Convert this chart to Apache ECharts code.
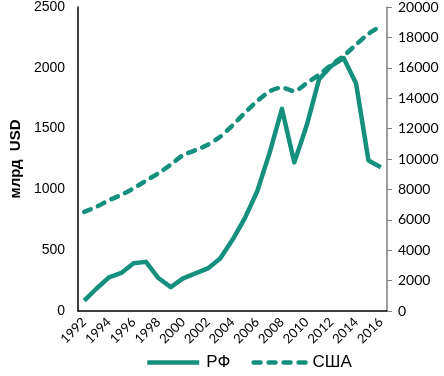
<!DOCTYPE html>
<html>
<head>
<meta charset="utf-8">
<style>
    html, body { margin: 0; padding: 0; background: #fff; }
    #gdp { width: 444px; height: 376px; }
</style>
<script src="https://cdn.jsdelivr.net/npm/echarts@6/dist/echarts.min.js"></script>
</head>
<body>
<div id="gdp"></div>
<script>
// годы
const years = ['1992','1993','1994','1995','1996','1997','1998','1999','2000','2001','2002','2003','2004',
    '2005','2006','2007','2008','2009','2010','2011','2012','2013','2014','2015','2016'];
// ВВП РФ, млрд USD (левая ось)
const rf = [85, 185, 276, 313, 392, 404, 271, 196, 268, 309, 350, 432, 585,
    764, 985, 1300, 1662, 1222, 1525, 1905, 2016, 2079, 1870, 1238, 1183];
// ВВП США, млрд USD (правая ось)
const usa = [6520, 6859, 7287, 7640, 8073, 8578, 9063, 9631, 10252, 10582, 10936, 11458, 12214,
    13037, 13815, 14452, 14713, 14449, 14992, 15543, 16197, 16785, 17527, 18238, 18745];

const teal = '#15907c';

let myChart = echarts.init(document.getElementById('gdp'));
myChart.setOption({
    animation: false,
    grid: { left: 62, right: 57, top: 6, bottom: 65 },
    legend: {
        bottom: 0,
        left: 140,
        itemWidth: 52,
        itemHeight: 12,
        itemGap: 21,
        itemStyle: { opacity: 0 },
        lineStyle: { width: 4.5 },
        textStyle: { fontFamily: 'Liberation Sans', fontSize: 17, color: '#000', padding: [0, 0, 0, 2] },
        data: ['РФ', 'США']
    },
    xAxis: {
        type: 'category',
        data: years,
        boundaryGap: true,
        axisLine: { lineStyle: { color: '#000', width: 1.5 } },
        axisTick: { show: false },
        axisLabel: {
            interval: 1,
            rotate: 45,
            margin: 9,
            fontFamily: 'Lato',
            fontSize: 13,
            color: '#000'
        }
    },
    yAxis: [{
        type: 'value',
        min: 0, max: 2500, interval: 500,
        name: 'млрд  USD',
        nameLocation: 'middle',
        nameGap: 42,
        nameRotate: 90,
        nameTextStyle: { fontFamily: 'Liberation Sans', fontSize: 15, fontWeight: 'bold', color: '#000' },
        axisLine: { show: true, lineStyle: { color: '#000', width: 1.5 } },
        axisTick: { show: false },
        splitLine: { show: false },
        axisLabel: { margin: 13, fontFamily: 'Liberation Sans', fontSize: 14, color: '#000', formatter: v => String(v) }
    }, {
        type: 'value',
        min: 0, max: 20000, interval: 2000,
        position: 'right',
        axisLine: { show: true, lineStyle: { color: '#808080', width: 1.5 } },
        axisTick: { show: true, length: 5, lineStyle: { color: '#808080' } },
        splitLine: { show: false },
        axisLabel: { margin: 11, fontFamily: 'Lato', fontSize: 14, color: '#000', formatter: v => String(v) }
    }],
    series: [{
        name: 'РФ',
        type: 'line',
        yAxisIndex: 0,
        data: rf,
        symbol: 'none',
        lineStyle: { color: teal, width: 4.5, join: 'round' },
        itemStyle: { color: teal }
    }, {
        name: 'США',
        type: 'line',
        yAxisIndex: 1,
        data: usa,
        symbol: 'none',
        smooth: 0.2,
        lineStyle: { color: teal, width: 4.5, type: [7, 8], cap: 'round' },
        itemStyle: { color: teal }
    }]
});
</script>
</body>
</html>
